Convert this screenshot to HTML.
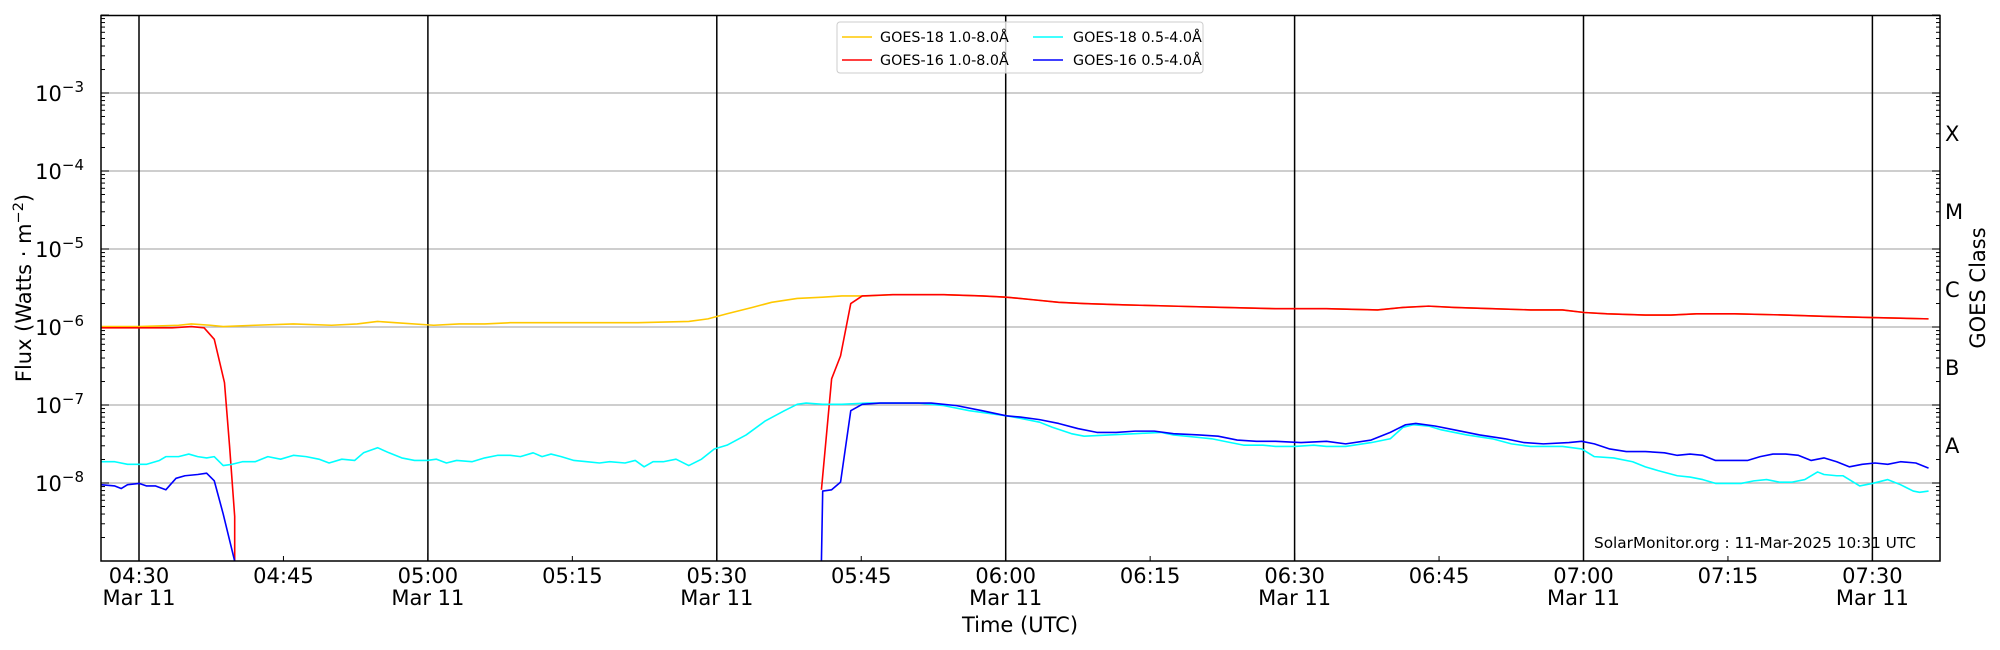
<!DOCTYPE html>
<html><head><meta charset="utf-8"><style>
html,body{margin:0;padding:0;background:#fff;}
svg{display:block;font-family:"DejaVu Sans","Liberation Sans",sans-serif;}
</style></head><body>
<svg id="s" width="2000" height="650" viewBox="0 0 2000 650" xmlns="http://www.w3.org/2000/svg">
<rect width="2000" height="650" fill="#fff"/>
<g id="grid" stroke="#b0b0b0" stroke-width="1.3"></g>
<g id="vl" stroke="#000" stroke-width="1.5"></g>
<g id="ticks" stroke="#000" stroke-width="1"></g>
<g transform="scale(1.2755)" fill="none" stroke-width="1.6" stroke-linejoin="round">
<polyline vector-effect="non-scaling-stroke" stroke="#ffc800" points="79,256 109,256 140,255 150,254 165,255 175,256 200,255 230,254 260,255 280,254 296,252 310,253 340,255 360,254 380,254 400,253 450,253 500,253 540,252 555,250 570,246 590,241 605,237 625,234 645,233 660,232 680,232 700,231 740,231 770,232 789,233 810,235 830,237 850,238 880,239 920,240 960,241 1000,242 1040,242 1080,243 1100,241 1120,240 1140,241 1170,242 1200,243 1225,243 1242,245 1260,246 1290,247 1310,247 1330,246 1360,246 1400,247 1430,248 1468,249 1512,250"/>
<polyline vector-effect="non-scaling-stroke" stroke="#ff0000" points="79,257 109,257 135,257 150,256 160,257 168,266 176,300 180,350 184,405 184,440"/>
<polyline vector-effect="non-scaling-stroke" stroke="#ff0000" points="644,384 652,297 659,279 667,238 676,232 700,231 740,231 770,232 789,233 810,235 830,237 850,238 880,239 920,240 960,241 1000,242 1040,242 1080,243 1100,241 1120,240 1140,241 1170,242 1200,243 1225,243 1242,245 1260,246 1290,247 1310,247 1330,246 1360,246 1400,247 1430,248 1468,249 1512,250"/>
<polyline vector-effect="non-scaling-stroke" stroke="#00ffff" points="79,362 90,362 100,364 115,364 125,361 130,358 140,358 148,356 155,358 162,359 168,358 175,365 182,364 190,362 200,362 210,358 220,360 230,357 240,358 250,360 258,363 268,360 278,361 285,355 296,351 305,355 315,359 325,361 335,361 342,360 350,363 358,361 370,362 380,359 390,357 400,357 408,358 418,355 425,358 432,356 440,358 450,361 460,362 470,363 478,362 490,363 498,361 505,366 512,362 520,362 530,360 540,365 550,360 560,352 570,349 585,341 600,330 615,322 625,317 632,316 645,317 660,317 680,316 700,316 720,316 740,318 760,322 789,326 800,328 815,331 825,335 840,340 850,342 870,341 890,340 910,339 920,341 940,343 950,344 965,347 975,349 990,349 1000,350 1015,350 1030,349 1040,350 1055,350 1075,347 1090,344 1100,335 1108,333 1120,334 1130,337 1150,341 1170,344 1185,348 1200,350 1215,350 1225,350 1240,352 1250,358 1265,359 1280,362 1290,366 1300,369 1315,373 1325,374 1335,376 1345,379 1355,379 1365,379 1375,377 1385,376 1395,378 1405,378 1415,376 1425,370 1430,372 1440,373 1445,373 1458,381 1468,379 1480,376 1490,380 1500,385 1505,386 1512,385"/>
<polyline vector-effect="non-scaling-stroke" stroke="#0000ff" points="79,380 90,381 95,383 100,380 109,379 115,381 122,381 130,384 138,375 145,373 155,372 162,371 168,377 175,403 184,440"/>
<polyline vector-effect="non-scaling-stroke" stroke="#0000ff" points="644,440 645,385 652,384 659,378 667,322 676,317 690,316 710,316 730,316 750,318 770,322 789,326 800,327 815,329 830,332 845,336 860,339 875,339 890,338 905,338 920,340 940,341 955,342 970,345 985,346 1000,346 1020,347 1040,346 1055,348 1075,345 1090,339 1102,333 1110,332 1125,334 1140,337 1160,341 1180,344 1195,347 1210,348 1230,347 1240,346 1250,348 1262,352 1275,354 1290,354 1305,355 1315,357 1325,356 1335,357 1345,361 1360,361 1370,361 1380,358 1390,356 1400,356 1410,357 1420,361 1430,359 1440,362 1450,366 1460,364 1470,363 1480,364 1490,362 1502,363 1512,367"/>
</g>
<rect x="101" y="15.5" width="1839" height="545.5" fill="none" stroke="#000" stroke-width="1.5"/>
<g id="txt" font-size="21" fill="#000"></g>
<!-- legend -->
<rect x="837" y="22" width="366" height="51" rx="3" fill="#fff" fill-opacity="0.8" stroke="#ccc" stroke-width="1"/>
<g font-size="14.3" fill="#000">
<line x1="842" y1="37" x2="872" y2="37" stroke="#ffc800" stroke-width="1.6"/>
<text x="880" y="42">GOES-18 1.0-8.0Å</text>
<line x1="842" y1="60" x2="872" y2="60" stroke="#ff0000" stroke-width="1.6"/>
<text x="880" y="65">GOES-16 1.0-8.0Å</text>
<line x1="1033" y1="37" x2="1063" y2="37" stroke="#00ffff" stroke-width="1.6"/>
<text x="1073" y="42">GOES-18 0.5-4.0Å</text>
<line x1="1033" y1="60" x2="1063" y2="60" stroke="#0000ff" stroke-width="1.6"/>
<text x="1073" y="65">GOES-16 0.5-4.0Å</text>
</g>
<text x="1916" y="548" font-size="15.3" text-anchor="end">SolarMonitor.org : 11-Mar-2025 10:31 UTC</text>
<text x="1020" y="632" font-size="21" text-anchor="middle">Time (UTC)</text>
<text transform="translate(31,288) rotate(-90)" font-size="21" text-anchor="middle">Flux (Watts · m<tspan dy="-8" font-size="14.5">−2</tspan><tspan dy="8">)</tspan></text>
<text transform="translate(1985,288) rotate(-90)" font-size="21" text-anchor="middle">GOES Class</text>
</svg>
<script>
(function(){
var NS="http://www.w3.org/2000/svg";
function el(p,t,a,txt){var e=document.createElementNS(NS,t);for(var k in a)e.setAttribute(k,a[k]);if(txt!==undefined)e.textContent=txt;document.getElementById(p).appendChild(e);return e;}
var L=101,R=1940,T=15.5,B=561;
function Y(lg){return 93+(-3-lg)*78;}
function X(m){return 139+m*9.63;}
for(var d=-9;d<=-2;d++){
 var y=Y(d);
 if(d>-9&&d<-2) el("grid","line",{x1:L,x2:R,y1:y,y2:y});
 el("ticks","line",{x1:L,x2:L+8,y1:y,y2:y});
 el("ticks","line",{x1:R,x2:R-8,y1:y,y2:y});
 for(var k=2;k<10;k++){var yy=Y(d+Math.log10(k));if(yy<T)continue;
  el("ticks","line",{x1:L,x2:L+4,y1:yy,y2:yy});el("ticks","line",{x1:R,x2:R-4,y1:yy,y2:yy});}
}
for(var e=-8;e<=-3;e++){
 var t=el("txt","text",{x:84,y:Y(e)+8,"text-anchor":"end"},"10");
 var ts=document.createElementNS(NS,"tspan");ts.setAttribute("dy","-9");ts.setAttribute("font-size","15");ts.textContent="−"+(-e);t.appendChild(ts);
}
var cls=["A","B","C","M","X"];
for(var i=0;i<5;i++){el("txt","text",{x:1945,y:Y(-8+i)-39+9},cls[i]);}
var labs=["04:30","04:45","05:00","05:15","05:30","05:45","06:00","06:15","06:30","06:45","07:00","07:15","07:30"];
for(var i=0;i<labs.length;i++){
 var x=X(i*15);
 el("ticks","line",{x1:x,x2:x,y1:B,y2:B-(i%2==0?8:5)});
 el("txt","text",{x:x,y:583,"text-anchor":"middle"},labs[i]);
 if(i%2==0){el("txt","text",{x:x,y:605,"text-anchor":"middle"},"Mar 11");
  el("vl","line",{x1:x,x2:x,y1:T,y2:B});}
}
})();
</script>
</body></html>
